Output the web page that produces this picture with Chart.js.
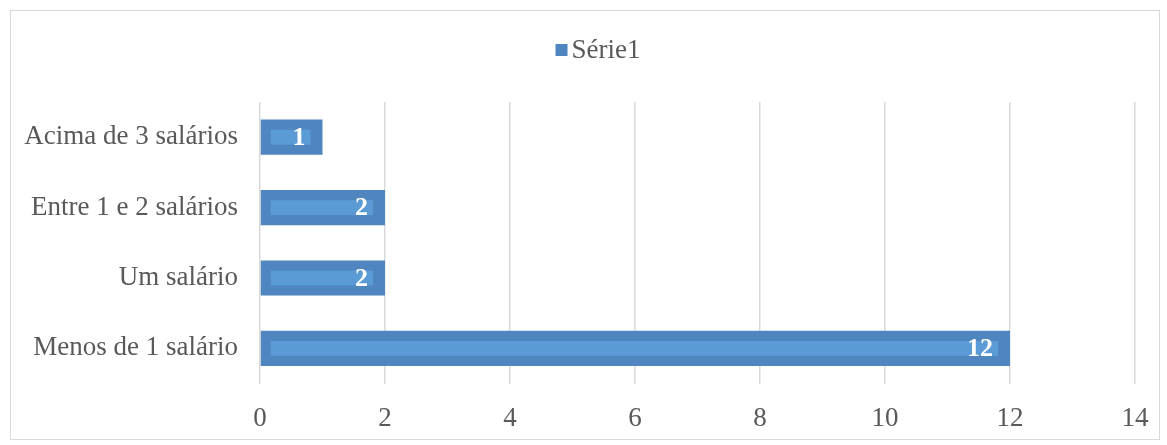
<!DOCTYPE html>
<html>
<head>
<meta charset="utf-8">
<script src="https://cdn.jsdelivr.net/npm/chart.js@4/dist/chart.umd.min.js"></script>
<style>
  body { margin: 0; background: #fff; }
  #box { position: absolute; left: 10px; top: 10px; width: 1150px; height: 430px; border: 1px solid #d9d9d9; box-sizing: border-box; }
  #barChart { display: block; }
</style>
</head>
<body>
<div id="box"><canvas id="barChart" width="1148" height="428"></canvas></div>
<script>
// Data
var categories = ['Acima de 3 salários', 'Entre 1 e 2 salários', 'Um salário', 'Menos de 1 salário'];
var serie1 = [1, 2, 2, 12];
var seriesLabel = 'Série1';

var barColor = '#4f86c0';
var stripeColor = '#5b9bd5';
var textFont = '"Liberation Serif"';

// Legend drawn by hand so the square sits close to its text, as in the original
var topLegend = {
    id: 'topLegend',
    afterDraw: function (chart) {
        var ctx = chart.ctx;
        var label = chart.data.datasets[0].label;
        ctx.save();
        ctx.font = '27px ' + textFont;
        var textW = ctx.measureText(label).width;
        var total = 12 + 4 + textW;
        var x0 = 587 - total / 2;
        ctx.fillStyle = barColor;
        ctx.fillRect(x0, 33, 12, 12);
        ctx.fillStyle = '#595959';
        ctx.textAlign = 'left';
        ctx.textBaseline = 'middle';
        ctx.fillText(label, x0 + 16, 40);
        ctx.restore();
    }
};

// Draws the lighter inner stripe and the white value labels on every bar
var barDecor = {
    id: 'barDecor',
    afterDatasetsDraw: function (chart) {
        var ctx = chart.ctx;
        var meta = chart.getDatasetMeta(0);
        ctx.save();
        meta.data.forEach(function (bar, i) {
            var left = bar.base, right = bar.x;
            var h = bar.height;
            // inner stripe
            ctx.fillStyle = stripeColor;
            ctx.fillRect(left + 10, bar.y - h * 0.21, (right - left) - 22, h * 0.42);
            // value label
            ctx.fillStyle = '#ffffff';
            ctx.font = 'bold 26px ' + textFont;
            ctx.textAlign = 'right';
            ctx.textBaseline = 'middle';
            ctx.fillText(String(serie1[i]), right - 17, bar.y + 1);
        });
        ctx.restore();
    }
};

var ctx = document.getElementById('barChart');
var myBarChart = new Chart(ctx, {
    type: 'bar',
    data: {
        labels: categories,
        datasets: [{
            label: seriesLabel,
            data: serie1,
            backgroundColor: barColor,
            borderWidth: 0,
            categoryPercentage: 1,
            barPercentage: 0.5
        }]
    },
    options: {
        indexAxis: 'y',
        responsive: false,
        animation: false,
        layout: { padding: { top: 91, right: 24, bottom: -15, left: 0 } },
        plugins: {
            legend: { display: false },
            tooltip: { enabled: false }
        },
        scales: {
            x: {
                min: 0,
                max: 14,
                afterFit: function (scale) { scale.paddingLeft = 0; scale.paddingRight = 0; },
                ticks: { stepSize: 2, color: '#595959', font: { family: textFont, size: 27 }, padding: 19 },
                grid: { color: '#d9d9d9', lineWidth: 1.5, drawTicks: false },
                border: { display: false }
            },
            y: {
                afterFit: function (scale) { scale.width = 249; scale.paddingTop = 0; scale.paddingBottom = 0; },
                ticks: { color: '#595959', font: { family: textFont, size: 27 }, padding: 22 },
                grid: { display: false, drawTicks: false },
                border: { display: false }
            }
        }
    },
    plugins: [barDecor, topLegend]
});
</script>
</body>
</html>
